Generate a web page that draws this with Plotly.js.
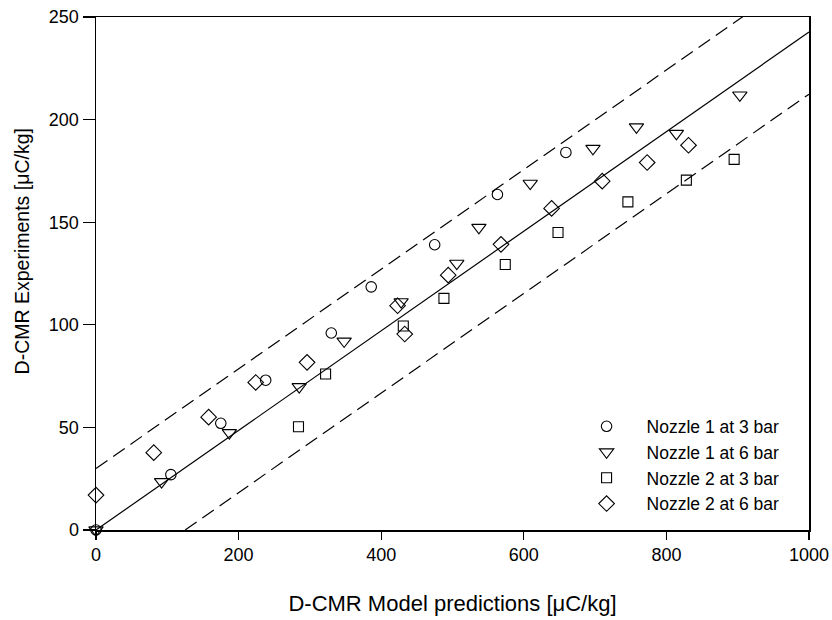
<!DOCTYPE html>
<html>
<head>
<meta charset="utf-8">
<script src="https://cdn.plot.ly/plotly-3.0.1.min.js"></script>
<style>html,body{margin:0;padding:0;background:#fff;}#chart{width:832px;height:620px;}</style>
</head>
<body>
<div id="chart"></div>
<script>
// Series names
const seriesNames = ["Nozzle 1 at 3 bar", "Nozzle 1 at 6 bar", "Nozzle 2 at 3 bar", "Nozzle 2 at 6 bar"];

// Nozzle 1 at 3 bar (circles)
const n1b3X = [0, 105, 175, 238, 330, 386, 475, 563, 659];
const n1b3Y = [0, 27, 52, 73, 96, 118.5, 139, 163.5, 184];

// Nozzle 1 at 6 bar (down triangles)
const n1b6X = [0, 92, 187, 285, 348, 428, 506, 537, 609, 697, 758, 814, 903];
const n1b6Y = [0, 23.5, 47.4, 69.8, 92, 111.2, 129.9, 147.4, 168.9, 185.9, 196.4, 193.2, 211.9];

// Nozzle 2 at 3 bar (squares)
const n2b3X = [284, 322, 431, 488, 574, 648, 746, 828, 895];
const n2b3Y = [50.3, 76, 99.4, 112.9, 129.4, 145, 159.9, 170.5, 180.6];

// Nozzle 2 at 6 bar (diamonds)
const n2b6X = [0, 81, 158, 224, 296, 423, 433, 494, 568, 639, 710, 773, 831];
const n2b6Y = [17, 37.7, 55, 71.9, 81.7, 109.3, 95.5, 124.2, 139.2, 156.7, 170, 179.1, 187.5];

// Reference lines: fit and +/- bands
const fitX = [0, 1000];
const fitY = [0, 242.7];
const upperX = [0, 1000];
const upperY = [30, 272.7];
const lowerX = [125, 1000];
const lowerY = [0, 212.4];

// Axis ticks
const xTicks = [0, 200, 400, 600, 800, 1000];
const yTicks = [0, 50, 100, 150, 200, 250];

const xTitle = "D-CMR Model predictions [\u03bcC/kg]";
const yTitle = "D-CMR Experiments [\u03bcC/kg]";

const FONT = "Liberation Sans, Arial, sans-serif";

function lineTrace(x, y, dash) {
  return {x: x, y: y, type: "scatter", mode: "lines", showlegend: false, hoverinfo: "skip",
    line: {color: "#000", width: 1.2, dash: dash}, cliponaxis: true};
}
function markTrace(x, y, name, symbol, size) {
  return {x: x, y: y, type: "scatter", mode: "markers", name: name, cliponaxis: false,
    marker: {symbol: symbol, size: size, color: "#000", line: {color: "#000", width: 1.1}}};
}

const data = [
  lineTrace(fitX, fitY, "solid"),
  lineTrace(upperX, upperY, "14px,7px"),
  lineTrace(lowerX, lowerY, "14px,7px"),
  markTrace(n1b3X, n1b3Y, seriesNames[0], "circle-open", 10.5),
  markTrace(n1b6X, n1b6Y, seriesNames[1], "triangle-down-open", 12.5),
  markTrace(n2b3X, n2b3Y, seriesNames[2], "square-open", 10),
  markTrace(n2b6X, n2b6Y, seriesNames[3], "diamond-open", 12)
];

const layout = {
  width: 832, height: 620,
  margin: {l: 96, r: 23, t: 17, b: 90},
  paper_bgcolor: "#fff", plot_bgcolor: "#fff",
  font: {family: FONT, color: "#000", size: 18},
  showlegend: true,
  legend: {x: 0.66, xanchor: "left", y: 0.237, yanchor: "top",
    font: {family: FONT, size: 17.5, color: "#000"}, bgcolor: "rgba(0,0,0,0)",
    borderwidth: 0, itemwidth: 70, tracegroupgap: 0},
  xaxis: {
    range: [0, 1000], tickvals: xTicks, ticktext: xTicks.map(String),
    showline: true, mirror: true, linecolor: "#000", linewidth: 1.5,
    ticks: "outside", ticklen: 8, tickwidth: 1.2, tickcolor: "#000",
    showgrid: false, zeroline: false, automargin: false,
    tickfont: {family: FONT, size: 18, color: "#000"},
    title: {text: xTitle, font: {family: FONT, size: 22, color: "#000"}, standoff: 31}
  },
  yaxis: {
    range: [0, 250], tickvals: yTicks, ticktext: yTicks.map(String),
    showline: true, mirror: true, linecolor: "#000", linewidth: 1.5,
    ticks: "outside", ticklen: 12, tickwidth: 1.2, tickcolor: "#000",
    showgrid: false, zeroline: false, automargin: false,
    tickfont: {family: FONT, size: 18, color: "#000"},
    title: {text: ""}
  },
  annotations: [{
    text: yTitle, textangle: -90, xref: "paper", yref: "paper",
    x: -0.1045, y: 0.544, xanchor: "center", yanchor: "middle", showarrow: false,
    font: {family: FONT, size: 19.5, color: "#000"}
  }]
};

Plotly.newPlot("chart", data, layout, {staticPlot: true, displayModeBar: false});
</script>
</body>
</html>
